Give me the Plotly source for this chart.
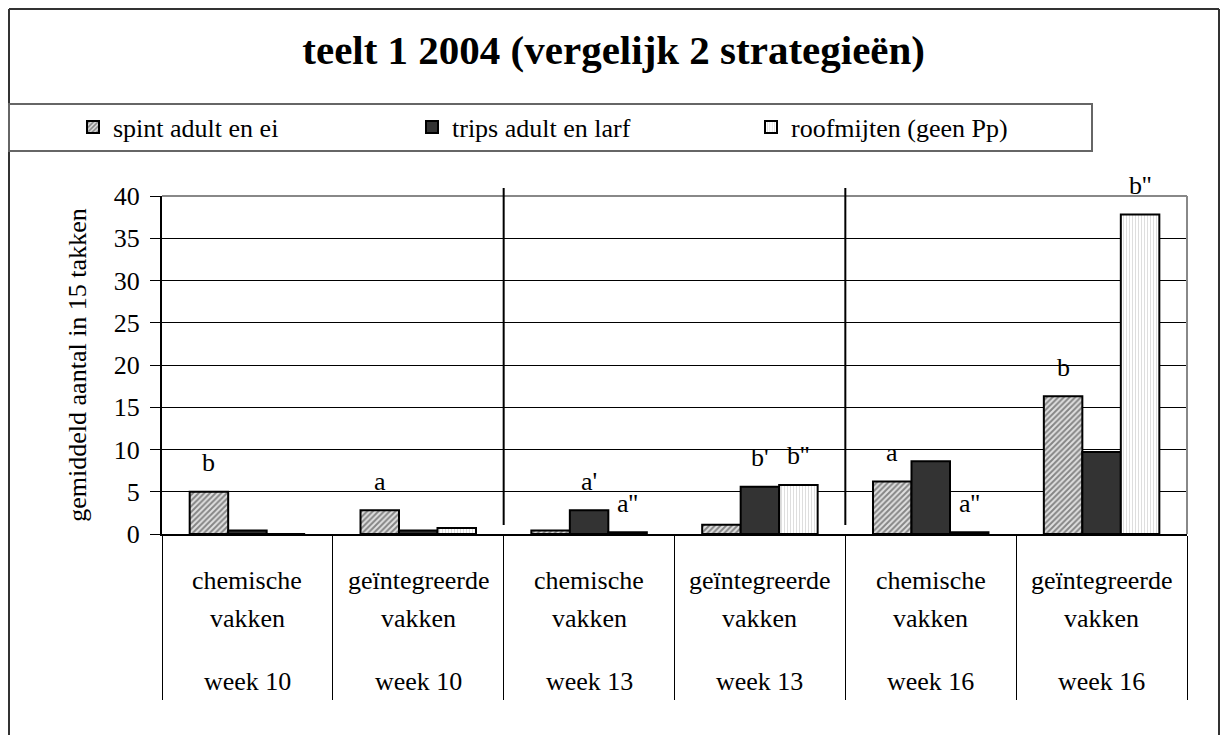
import plotly.graph_objects as go

# ---- data ----
treatments = ["chemische", "geïntegreerde", "chemische", "geïntegreerde", "chemische", "geïntegreerde"]
second_line = ["vakken", "vakken", "vakken", "vakken", "vakken", "vakken"]
weeks = ["week 10", "week 10", "week 13", "week 13", "week 16", "week 16"]
categories = [f"{t} {s} {w}" for t, s, w in zip(treatments, second_line, weeks)]

series_names = ["spint adult en ei", "trips adult en larf", "roofmijten (geen Pp)"]
spint = [5.0, 2.8, 0.4, 1.1, 6.2, 16.3]
trips = [0.4, 0.4, 2.8, 5.6, 8.6, 9.7]
roof = [0.0, 0.7, 0.2, 5.8, 0.2, 37.8]

spint_letters = ["b", "a", "", "", "a", "b"]
trips_letters = ["", "", "a'", "b'", "", ""]
roof_letters = ["", "", "a''", "b''", "a''", "b''"]

y_ticks = [0, 5, 10, 15, 20, 25, 30, 35, 40]

# ---- geometry helpers (pixel -> paper) ----
W, H = 1220, 735
L, R, T, B = 162, 1187, 196, 534
def px(p):
    return (p - L) / (R - L)
def py(p):
    return (B - p) / (B - T)

FONT = "Times New Roman, Liberation Serif, DejaVu Serif, serif"
BARGAP = 0.324

fig = go.Figure()
fig.add_trace(go.Bar(
    x=categories, y=spint, name=series_names[0],
    marker=dict(color="#e0e0e0", line=dict(color="black", width=2),
                pattern=dict(shape="/", fgcolor="#2a2a2a", size=4, solidity=0.5)),
))
fig.add_trace(go.Bar(
    x=categories, y=trips, name=series_names[1],
    marker=dict(color="#333333", line=dict(color="black", width=2)),
))
fig.add_trace(go.Bar(
    x=categories, y=roof, name=series_names[2],
    marker=dict(color="#ffffff", line=dict(color="black", width=2),
                pattern=dict(shape="|", fgcolor="#b5b5b5", size=3, solidity=0.3)),
))

annotations = []
bw = (1 - BARGAP) / 3
for k, (vals, labs) in enumerate([(spint, spint_letters), (trips, trips_letters), (roof, roof_letters)]):
    for i, (v, lab) in enumerate(zip(vals, labs)):
        if lab:
            annotations.append(dict(
                x=i + (k - 1) * bw, y=v, xref="x", yref="y", text=lab, showarrow=False,
                yanchor="middle", yshift=29, font=dict(family=FONT, size=26, color="black")))

for i, c in enumerate(categories):
    for txt, ypix in [(treatments[i], 580), (second_line[i], 618), (weeks[i], 681)]:
        annotations.append(dict(
            x=c, xref="x", y=py(ypix), yref="paper", text=txt, showarrow=False,
            xanchor="center", yanchor="middle", font=dict(family=FONT, size=26, color="black")))

shapes = []
# outer border (left, top, right)
shapes.append(dict(type="line", xref="paper", yref="paper", x0=px(9), x1=px(9), y0=py(9), y1=py(740),
                   line=dict(color="#333333", width=2)))
shapes.append(dict(type="line", xref="paper", yref="paper", x0=px(9), x1=px(1219), y0=py(9), y1=py(9),
                   line=dict(color="#333333", width=2)))
shapes.append(dict(type="line", xref="paper", yref="paper", x0=px(1219), x1=px(1219), y0=py(9), y1=py(740),
                   line=dict(color="#333333", width=2)))
# legend box
shapes.append(dict(type="rect", xref="paper", yref="paper", x0=px(9), x1=px(1092), y0=py(104), y1=py(151),
                   line=dict(color="#666666", width=2), fillcolor="rgba(0,0,0,0)"))
# plot area frame top & right (grey)
shapes.append(dict(type="line", xref="paper", yref="paper", x0=0, x1=1, y0=1, y1=1,
                   line=dict(color="#888888", width=2), layer="above"))
shapes.append(dict(type="line", xref="paper", yref="paper", x0=1, x1=1, y0=0, y1=1,
                   line=dict(color="#888888", width=2), layer="above"))
# week separators
for xb in [1.5, 3.5]:
    shapes.append(dict(type="line", xref="x", yref="paper", x0=xb, x1=xb, y0=py(525), y1=py(188),
                       line=dict(color="black", width=2), layer="above"))

fig.update_layout(
    width=W, height=H, autosize=False,
    margin=dict(l=L, r=W - R, t=T, b=H - B, pad=0),
    paper_bgcolor="white", plot_bgcolor="white",
    barmode="group", bargap=BARGAP, bargroupgap=0,
    font=dict(family=FONT, size=26, color="black"),
    title=dict(text="teelt 1 2004 (vergelijk 2 strategieën)", x=0.503, xref="container", xanchor="center",
               y=1 - 50 / H, yref="container", yanchor="middle",
               font=dict(family=FONT, size=41, color="black", weight="bold")),
    legend=dict(orientation="h", x=73 / W, xref="container", xanchor="left",
                y=1 - 127 / H, yref="container", yanchor="middle",
                entrywidth=294, entrywidthmode="pixels", traceorder="normal",
                bgcolor="rgba(0,0,0,0)", borderwidth=0,
                font=dict(family=FONT, size=26, color="black")),
    xaxis=dict(type="category", categoryorder="array", categoryarray=categories,
               showticklabels=False, tickson="boundaries", ticks="outside", ticklen=164,
               tickcolor="black", tickwidth=1, showline=True, linecolor="black", linewidth=2,
               showgrid=False, zeroline=False, range=[-0.5, 5.5], fixedrange=True),
    yaxis=dict(range=[0, 40], tickvals=y_ticks, ticks="outside", ticklen=10, tickcolor="black",
               tickwidth=1, showline=True, linecolor="black", linewidth=2,
               showgrid=True, gridcolor="black", gridwidth=1, zeroline=False,
               ticklabelstandoff=5, tickfont=dict(family=FONT, size=26, color="black"),
               title=dict(text="gemiddeld aantal in 15 takken", standoff=20,
                          font=dict(family=FONT, size=26, color="black"))),
    annotations=annotations,
    shapes=shapes,
    showlegend=True,
)

fig.write_html("out.html", config={"displayModeBar": False},
               post_script="document.body.style.margin='0';document.body.style.overflow='hidden';")
